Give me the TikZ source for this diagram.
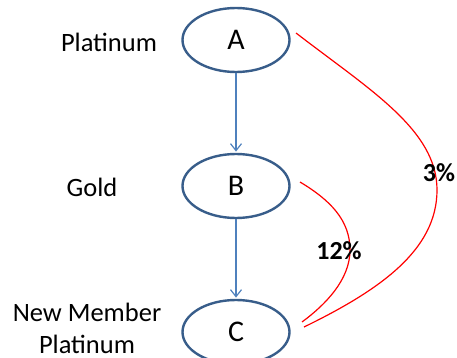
\documentclass[tikz,border=0pt]{standalone}
\usepackage{fontspec}
\setmainfont{Carlito}
\usetikzlibrary{shapes.geometric,arrows.meta}
\definecolor{ellblue}{RGB}{56,93,138}
\definecolor{arrblue}{RGB}{79,129,189}
\begin{document}
\begin{tikzpicture}[x=1pt,y=-1pt,
 state/.style={ellipse,draw=ellblue,line width=2.4pt,minimum width=107pt,minimum height=64pt,inner sep=0pt,font=\fontsize{30}{32}\selectfont},
 lbl/.style={font=\fontsize{26.5}{32}\selectfont,align=center},
 pct/.style={font=\bfseries\fontsize{26}{30}\selectfont},
 flow/.style={draw=arrblue,line width=1.2pt,shorten >=1.2pt,-{Straight Barb[length=7pt,width=11pt]}},
 link/.style={draw=red,line width=1.2pt}]
\useasboundingbox (0,0) rectangle (457,358);
\node[state] (A) at (236,40) {A};
\node[state] (B) at (236,186) {B};
\node[state] (C) at (236,332) {C};
\node[lbl] (lA) at (109,42) {Platinum};
\node[lbl] (lB) at (92,187) {Gold};
\node[lbl] (lC) at (87,328) {New Member\\Platinum};
\draw[flow] (A.south) -- (B.north);
\draw[flow] (B.south) -- (C.north);
\coordinate (a1) at (296,33);
\coordinate (c1) at (304,327);
\coordinate (b1) at (300,182);
\coordinate (c2) at (302,322);
\draw[link] (a1) .. controls (370,90) and (437,130) .. (437,190)
  .. controls (437,250) and (380,290) .. (c1);
\draw[link] (b1) .. controls (330,200) and (350,220) .. (350,250)
  .. controls (350,280) and (325,305) .. (c2);
\node[pct] (p3) at (439,173) {3\%};
\node[pct] (p12) at (339,251) {12\%};
\end{tikzpicture}
\end{document}
